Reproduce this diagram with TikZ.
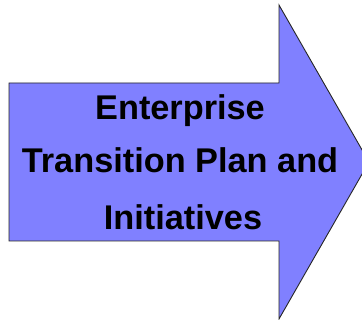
\documentclass[tikz,border=0pt]{standalone}
\usepackage{fontspec}
\setmainfont{Liberation Sans}
\definecolor{arrowfill}{RGB}{128,128,255}
\tikzset{
  arrowshape/.style={fill=arrowfill, draw=black!85, line width=0.9pt, line join=miter},
  label/.style={font=\fontsize{34.3}{40}\selectfont\bfseries, anchor=base, inner sep=0pt}
}
\begin{document}
\begin{tikzpicture}[x=1pt,y=-1pt]
\useasboundingbox (0,0) rectangle (362,320);
\clip (0,0) rectangle (362,320);
\draw[arrowshape] (9,83) -- (279,83) -- (279,5) -- (369,162) -- (279,319) -- (279,241) -- (9,241) -- cycle;
\node[label] (l1) at (180,119.3) {Enterprise};
\node[label] (l2) at (180,172.7) {Transition Plan and};
\node[label] (l3) at (183,229.3) {Initiatives};
\end{tikzpicture}
\end{document}
